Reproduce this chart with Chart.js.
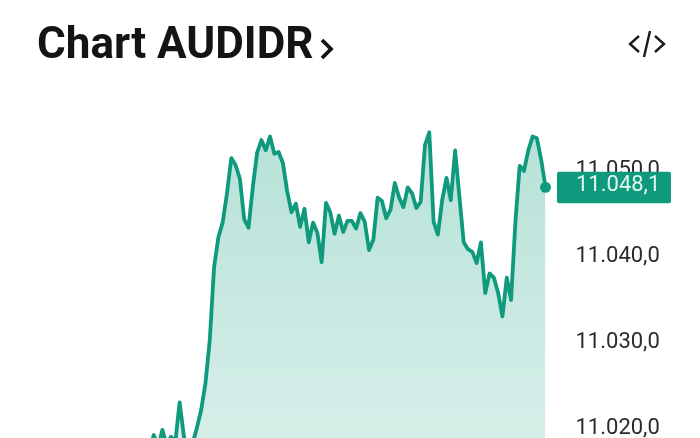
<!DOCTYPE html>
<html>
<head>
<meta charset="utf-8">
<script src="https://cdn.jsdelivr.net/npm/chart.js@4"></script>
<style>
html,body{margin:0;padding:0;background:#fff;width:700px;height:438px;overflow:hidden}
#wrap{position:relative;width:700px;height:438px}
canvas{position:absolute;left:0;top:0}
#title{position:absolute;left:37px;top:18px;font:700 44px/50px Roboto,sans-serif;color:#141414;white-space:nowrap;z-index:2}
svg{position:absolute;z-index:2;overflow:visible}
</style>
</head>
<body>
<div id="wrap">
<div id="title">Chart AUDIDR</div>
<svg id="chev" style="left:320px;top:38px" width="14" height="22"><path d="M2 2 L11 11 L2 20" fill="none" stroke="#141414" stroke-width="3.8"/></svg>
<svg id="code" style="left:628px;top:30px" width="38" height="28"><path d="M11 6 L2 14 L11 22 M27 6 L36 14 L27 22 M22 1 L16 27" fill="none" stroke="#1a1a1a" stroke-width="2.4"/></svg>
<canvas id="c" width="700" height="438"></canvas>
</div>
<script>
const seriesValues = [
11017.6,11019.3,11017.9,11019.9,11018.1,11019.1,11018.5,11023.1,11019.1,11017.0,
11018.3,11020.1,11022.2,11025.3,11030.3,11038.8,11042.3,11044.0,11047.4,11051.5,
11050.7,11049.1,11044.4,11043.4,11048.1,11052.1,11053.6,11052.4,11054.0,11052.0,
11052.2,11050.9,11047.6,11045.2,11046.2,11043.5,11045.6,11041.7,11044.0,11042.8,
11039.4,11046.3,11045.2,11042.7,11044.8,11042.9,11044.2,11044.2,11043.3,11045.1,
11044.1,11040.8,11042.0,11046.9,11046.5,11044.5,11045.5,11048.6,11046.9,11045.8,
11048.1,11047.4,11045.7,11046.4,11053.0,11054.5,11044.1,11042.6,11046.6,11049.2,
11046.6,11052.4,11047.0,11041.7,11040.9,11040.6,11039.3,11041.7,11035.8,11038.1,
11037.6,11035.8,11033.1,11037.6,11035.0,11044.0,11050.6,11050.0,11052.4,11054.0,
11053.8,11051.3,11048.1
];
const categories = seriesValues.map((_, i) => String(i));
const yTicks = [11020, 11030, 11040, 11050];
const lastLabel = "11.048,1";

const fmt = v => v.toLocaleString('de-DE', {minimumFractionDigits:1, maximumFractionDigits:1});
const GREEN = '#0f9a7d';

const badge = {
  id:'badge',
  afterDraw(chart){
    const {ctx, scales:{y}} = chart;
    const py = y.getPixelForValue(seriesValues[seriesValues.length-1]);
    ctx.save();
    ctx.fillStyle = GREEN;
    ctx.beginPath();
    ctx.roundRect(557, py-15.5, 114, 31.5, 2);
    ctx.fill();
    ctx.fillStyle = '#e3f6f1';
    ctx.font = '22px Roboto, sans-serif';
    ctx.textAlign = 'left';
    ctx.textBaseline = 'middle';
    ctx.fillText(lastLabel, 576, py-1.5);
    ctx.restore();
  }
};

new Chart(document.getElementById('c'), {
  type:'line',
  data:{
    labels:categories,
    datasets:[{
      data:seriesValues,
      borderColor:GREEN,
      borderWidth:3.8,
      borderJoinStyle:'round',
      tension:0,
      fill:'start',
      clip:false,
      backgroundColor(ctx){
        const g = ctx.chart.ctx.createLinearGradient(0,130,0,438);
        g.addColorStop(0,'#b6e1d7');
        g.addColorStop(1,'#d6efe9');
        return g;
      },
      pointRadius:ctx => ctx.dataIndex === seriesValues.length-1 ? 5.5 : 0,
      pointBackgroundColor:GREEN,
      pointBorderWidth:0
    }]
  },
  options:{
    responsive:false,
    animation:false,
    events:[],
    layout:{padding:{left:149.5,top:0,right:0,bottom:0},autoPadding:false},
    plugins:{legend:{display:false},tooltip:{enabled:false},title:{display:false}},
    scales:{
      x:{
        display:false,
        offset:false,
        grid:{display:false}
      },
      y:{
        position:'right',
        min:11018.95,
        max:11069.88,
        afterBuildTicks(s){ s.ticks = yTicks.map(value=>({value})); },
        afterFit(s){ s.width = 154.5; s.paddingTop = 0; s.paddingBottom = 0; },
        grid:{display:false},
        border:{display:false},
        ticks:{
          callback:v=>fmt(v),
          color:'#2b2b2b',
          font:{family:'Roboto, sans-serif',size:22},
          padding:22,
          labelOffset:0,
          autoSkip:false,
          maxRotation:0
        }
      }
    }
  },
  plugins:[badge]
});
</script>
</body>
</html>
